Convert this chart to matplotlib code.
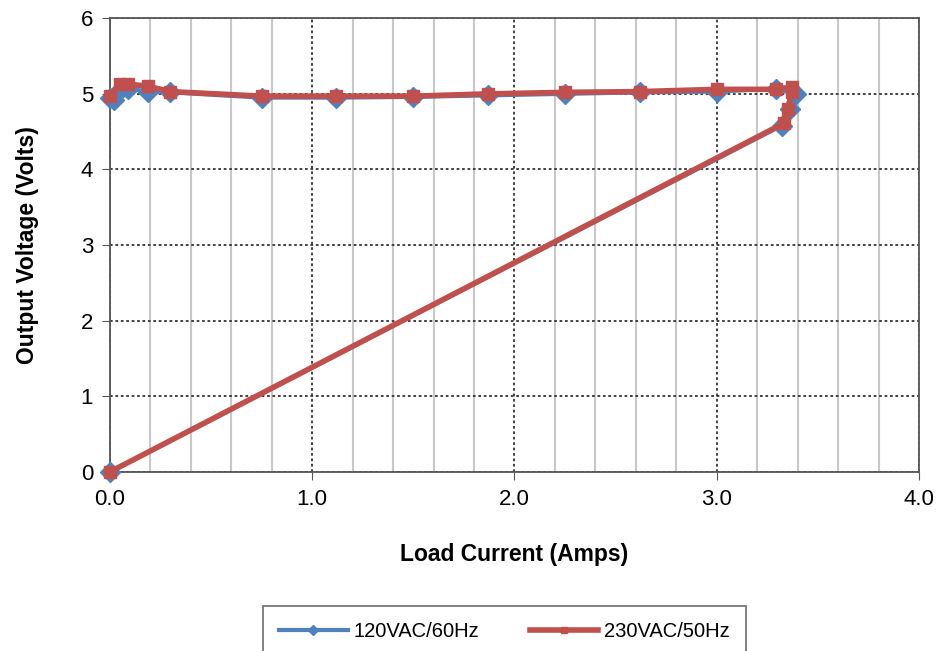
import matplotlib.pyplot as plt
from matplotlib.ticker import MultipleLocator, FormatStrFormatter

# 120VAC/60Hz series
amps_120 = [0.00, 0.02, 0.05, 0.09, 0.19, 0.30, 0.75, 1.12, 1.50, 1.87,
            2.25, 2.62, 3.00, 3.29, 3.39, 3.36, 3.32, 0.00]
volts_120 = [4.95, 4.92, 5.05, 5.07, 5.03, 5.02, 4.95, 4.95, 4.96, 4.98,
             5.00, 5.02, 5.03, 5.07, 5.00, 4.80, 4.58, 0.00]

# 230VAC/50Hz series
amps_230 = [0.00, 0.05, 0.09, 0.19, 0.30, 0.75, 1.12, 1.50, 1.87,
            2.25, 2.62, 3.00, 3.29, 3.37, 3.37, 3.35, 3.33, 0.00]
volts_230 = [4.97, 5.13, 5.13, 5.10, 5.03, 4.97, 4.97, 4.97, 5.00,
             5.02, 5.03, 5.06, 5.06, 5.09, 5.02, 4.80, 4.61, 0.00]

plt.rcParams['font.family'] = ['Liberation Sans', 'DejaVu Sans']

fig = plt.figure(figsize=(9.38, 6.51), dpi=100)
ax = fig.add_axes([0.117, 0.275, 0.863, 0.697])

ax.plot(amps_120, volts_120, color='#4F81BD', lw=3, marker='D', ms=10,
        label='120VAC/60Hz', zorder=3, clip_on=False)
ax.plot(amps_230, volts_230, color='#C0504D', lw=4, marker='s', ms=9,
        label='230VAC/50Hz', zorder=4, clip_on=False)

ax.set_xlim(0, 4.0)
ax.set_ylim(0, 6)
ax.xaxis.set_major_locator(MultipleLocator(1.0))
ax.xaxis.set_minor_locator(MultipleLocator(0.2))
ax.yaxis.set_major_locator(MultipleLocator(1))
ax.xaxis.set_major_formatter(FormatStrFormatter('%.1f'))

ax.grid(which='minor', axis='x', color='#c8c8c8', lw=1.5, ls='-')
ax.grid(which='major', color='#333333', lw=1.3, ls=(0, (1.5, 1.5)))
ax.set_axisbelow(True)

ax.tick_params(which='major', labelsize=16, length=6, color='#555555', pad=6)
ax.tick_params(which='minor', length=0)
for s in ax.spines.values():
    s.set_color('#555555')
    s.set_linewidth(1.3)

ax.set_xlabel('Load Current (Amps)', fontsize=16.5, fontweight='bold', labelpad=24)
ax.set_ylabel('Output Voltage (Volts)', fontsize=16.5, fontweight='bold', labelpad=30)

leg = fig.legend(loc='lower center', bbox_to_anchor=(0.538, -0.025), ncol=2,
                 fontsize=14.5, frameon=True, fancybox=False, edgecolor='#555555',
                 handlelength=3.4, handletextpad=0.3, columnspacing=2.5,
                 borderpad=0.8, markerscale=0.5)
leg.get_frame().set_linewidth(1.3)

fig.savefig('out.png', dpi=100)
